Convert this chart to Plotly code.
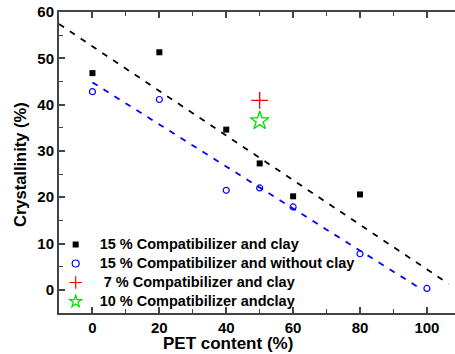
import plotly.graph_objects as go

# Data
pet_clay = [0, 20, 40, 50, 60, 80]
cry_clay = [46.8, 51.3, 34.6, 27.3, 20.2, 20.6]
pet_noclay = [0, 20, 40, 50, 60, 80, 100]
cry_noclay = [42.8, 41.1, 21.5, 22.0, 17.9, 7.8, 0.3]
pet_7 = [50]
cry_7 = [40.9]
pet_10 = [50]
cry_10 = [36.5]
# fitted trend lines (endpoints)
fit_clay_x = [-10, 106.5]
fit_clay_y = [57.4, 1.3]
fit_noclay_x = [0, 98]
fit_noclay_y = [44.8, 0.3]

names = ["15 % Compatibilizer and clay",
         "15 % Compatibilizer and without clay",
         "\u00a07 % Compatibilizer and clay",
         "10 % Compatibilizer andclay"]

FONT = "Arial, Liberation Sans, sans-serif"

styles = [
    dict(symbol="square", size=6, color="black"),
    dict(symbol="circle-open", size=6, color="blue", line=dict(width=1.2, color="blue")),
    dict(symbol="cross-thin-open", size=12, color="red", line=dict(width=1.3, color="red")),
    dict(symbol="star-open", size=14, color="#00dd00", line=dict(width=1.3, color="#00dd00")),
]
legend_styles = [
    dict(symbol="square", size=6, color="black"),
    dict(symbol="circle-open", size=7, color="blue", line=dict(width=1.2, color="blue")),
    dict(symbol="cross-thin-open", size=9, color="red", line=dict(width=1.2, color="red")),
    dict(symbol="star-open", size=9, color="#00dd00", line=dict(width=1.2, color="#00dd00")),
]

fig = go.Figure()
fig.add_trace(go.Scatter(x=fit_clay_x, y=fit_clay_y, mode="lines",
                         line=dict(color="black", width=1.8, dash="6px,7px"),
                         showlegend=False, hoverinfo="skip"))
fig.add_trace(go.Scatter(x=fit_noclay_x, y=fit_noclay_y, mode="lines",
                         line=dict(color="blue", width=1.8, dash="6px,7px"),
                         showlegend=False, hoverinfo="skip"))
for xs, ys, st in [(pet_clay, cry_clay, styles[0]), (pet_noclay, cry_noclay, styles[1]),
                   (pet_7, cry_7, styles[2]), (pet_10, cry_10, styles[3])]:
    fig.add_trace(go.Scatter(x=xs, y=ys, mode="markers", marker=st, showlegend=False))
# legend entries
for nm, st in zip(names, legend_styles):
    label = '<span style="font-size:14.5px">\u00a0' + nm + '</span>'
    fig.add_trace(go.Scatter(x=[None], y=[None], mode="markers", name=label, marker=st))

axis_common = dict(
    showgrid=False, zeroline=False, showline=True, linecolor="#444", linewidth=2,
    ticks="inside", ticklen=6, tickwidth=1.5, tickcolor="#444",
    tickfont=dict(family=FONT, size=15, color="black", weight="bold"),
)

fig.update_layout(
    width=455, height=354,
    margin=dict(l=59, r=0, t=12, b=41),
    plot_bgcolor="white", paper_bgcolor="white",
    xaxis=dict(range=[-10, 108.4], tickvals=[0, 20, 40, 60, 80, 100], mirror="ticks",
               minor=dict(dtick=10, tick0=0, ticks="inside", ticklen=4, tickwidth=1.2, tickcolor="#444"),
               **axis_common),
    yaxis=dict(range=[-5, 60], tickvals=[0, 10, 20, 30, 40, 50, 60], mirror=False,
               minor=dict(dtick=5, tick0=0, ticks="inside", ticklen=4, tickwidth=1.2, tickcolor="#444"),
               **axis_common),
    legend=dict(x=-0.0084, y=(313 - 230) / 301, xanchor="left", yanchor="top",
                bgcolor="rgba(0,0,0,0)", borderwidth=0,
                font=dict(family=FONT, size=12, color="black", weight="bold"),
                itemwidth=30, tracegroupgap=0),
    annotations=[
        dict(text="PET content (%)", xref="paper", yref="paper",
             x=(228 - 59) / 396, y=-(344 - 313) / 301, xanchor="center", yanchor="middle",
             showarrow=False,
             font=dict(family=FONT, size=17, color="black", weight="bold")),
        dict(text="Crystallinity (%)", xref="paper", yref="paper",
             x=(20 - 59) / 396, y=(313 - 165) / 301, xanchor="center", yanchor="middle",
             textangle=-90, showarrow=False,
             font=dict(family=FONT, size=16.5, color="black", weight="bold")),
    ],
    showlegend=True,
)

fig.write_html("out.html")
